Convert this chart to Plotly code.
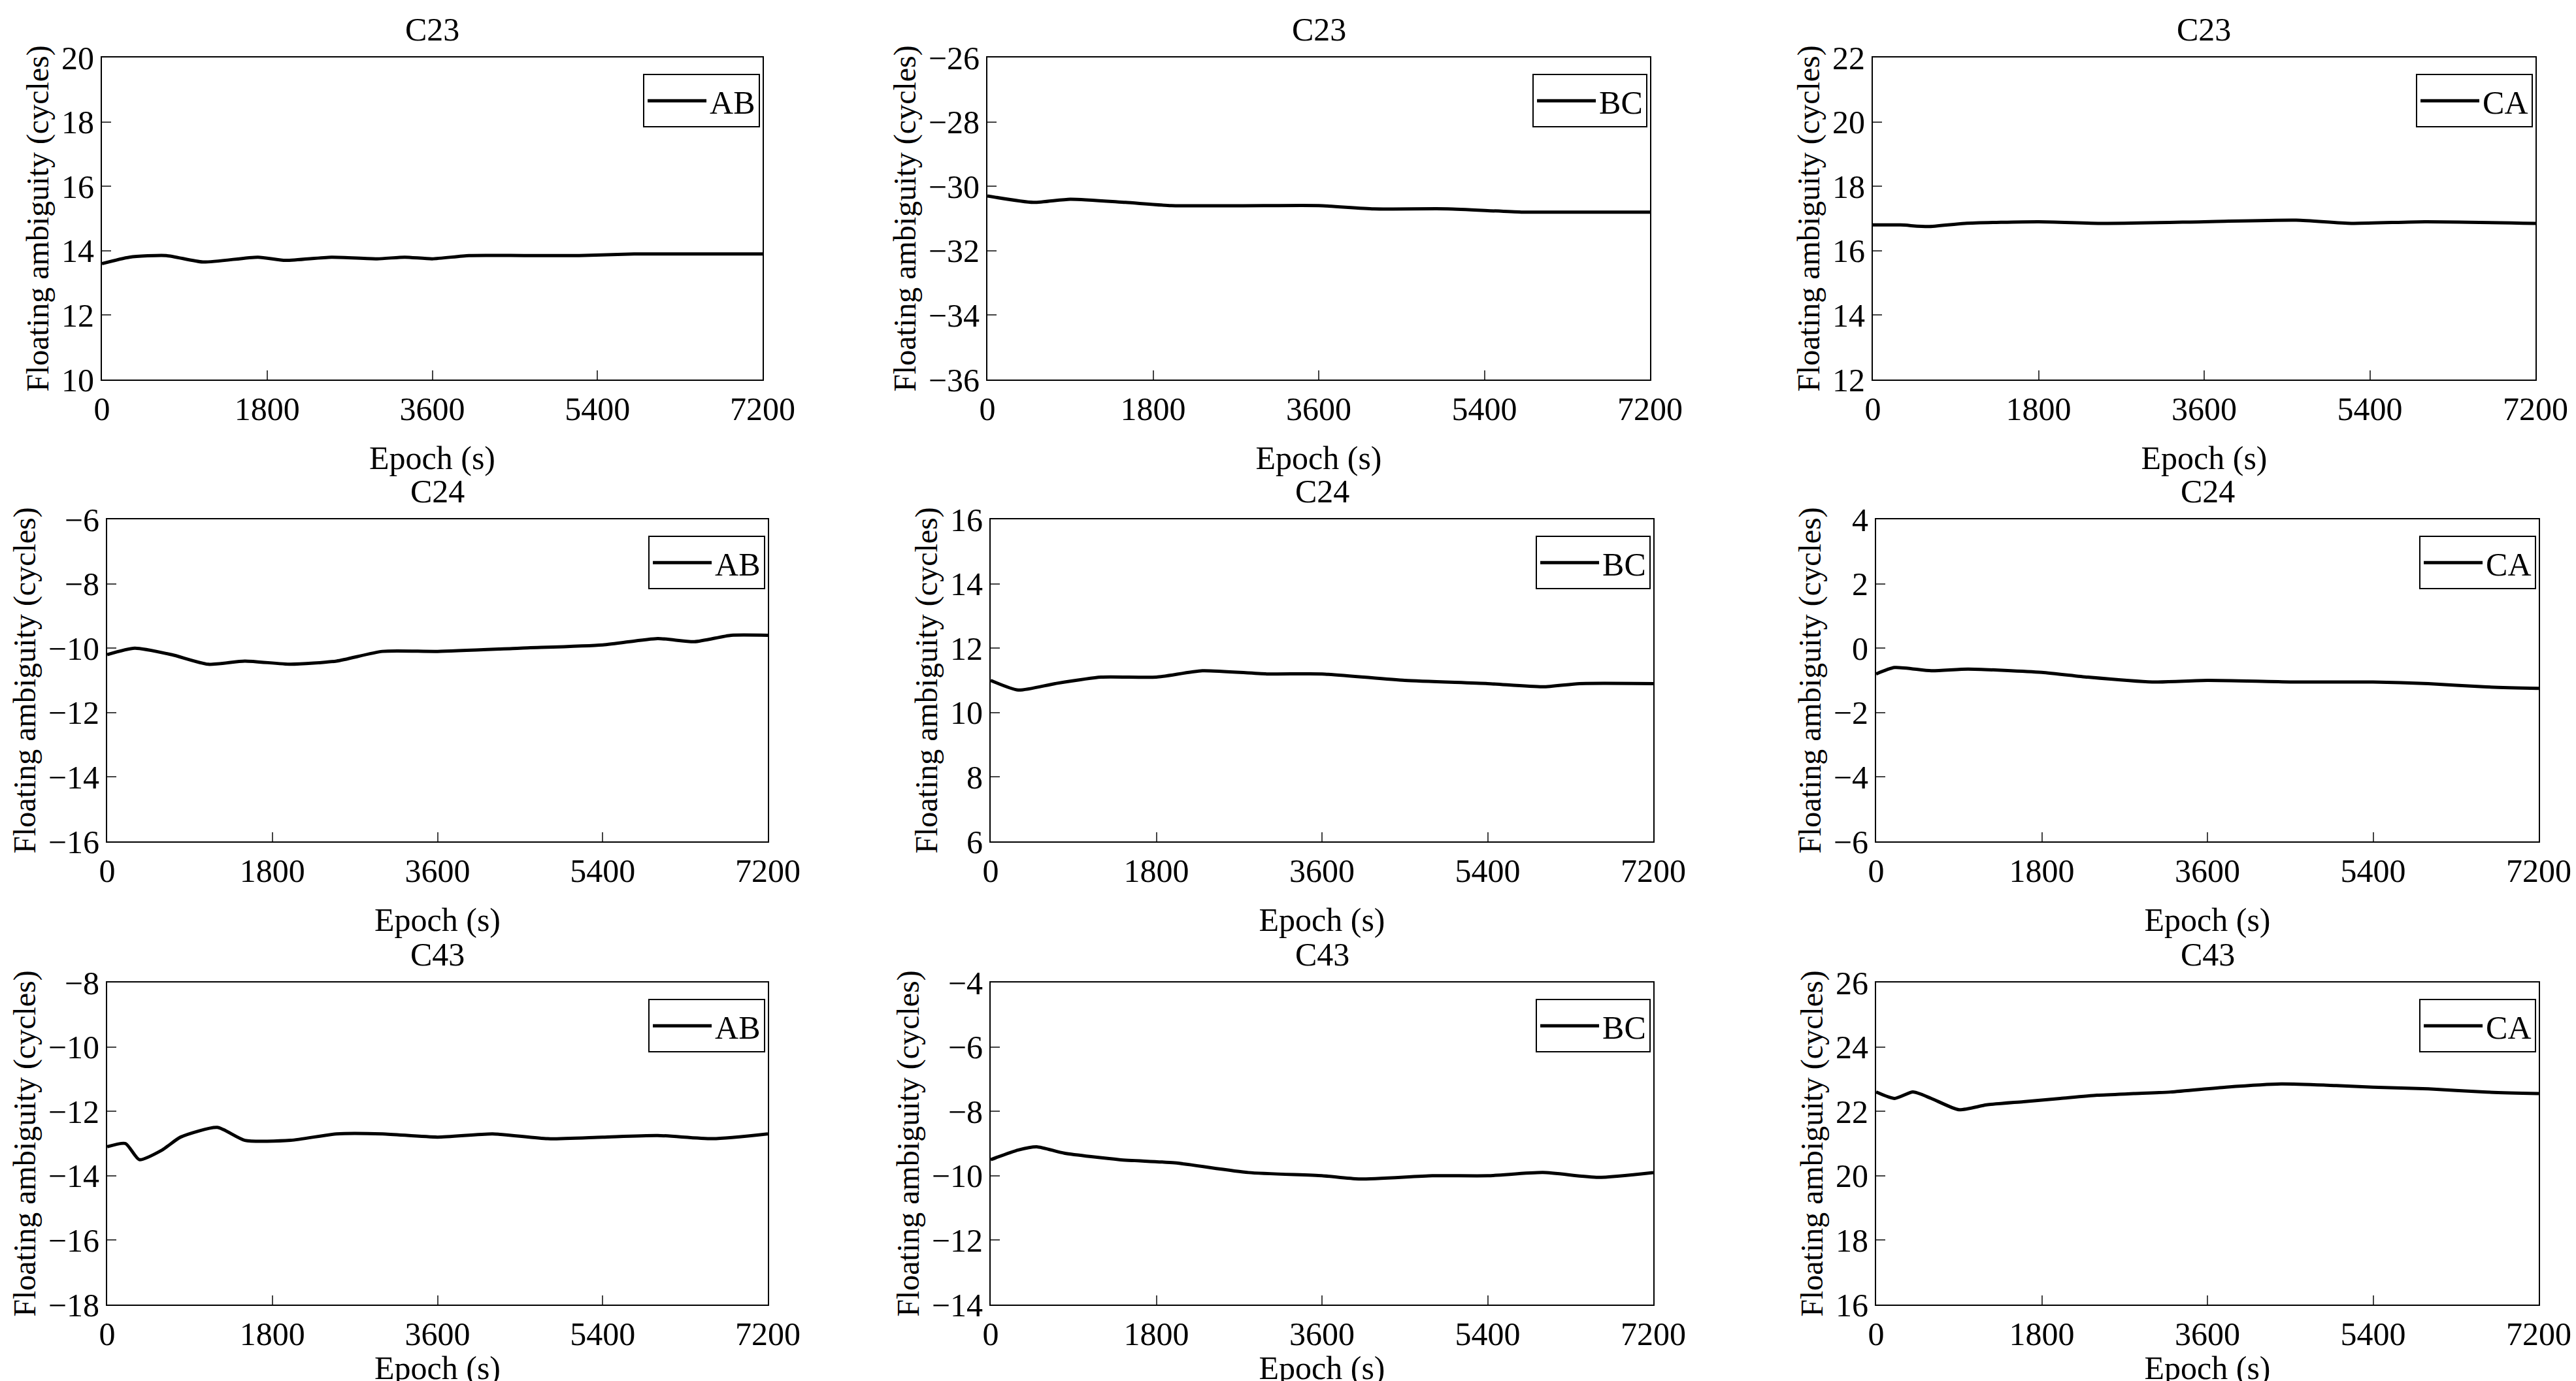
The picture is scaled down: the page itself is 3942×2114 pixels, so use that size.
import plotly.graph_objects as go

x_c23_ab = [0,300,700,1100,1700,2000,2500,3000,3300,3600,4000,4600,5200,5800,6500,7200]
y_c23_ab = [13.6,13.8,13.85,13.65,13.8,13.7,13.8,13.75,13.8,13.75,13.85,13.85,13.85,13.9,13.9,13.9]
x_c23_bc = [0,500,900,1500,2000,3000,3600,4200,5000,5800,6500,7200]
y_c23_bc = [-30.3,-30.5,-30.4,-30.5,-30.6,-30.6,-30.6,-30.7,-30.7,-30.8,-30.8,-30.8]
x_c23_ca = [0,300,600,1000,1800,2500,3600,4600,5200,6000,7200]
y_c23_ca = [16.8,16.8,16.75,16.85,16.9,16.85,16.9,16.95,16.85,16.9,16.85]
x_c24_ab = [0,300,700,1100,1500,2000,2500,3000,3600,4500,5400,6000,6400,6800,7200]
y_c24_ab = [-10.2,-10.0,-10.2,-10.5,-10.4,-10.5,-10.4,-10.1,-10.1,-10.0,-9.9,-9.7,-9.8,-9.6,-9.6]
x_c24_bc = [0,300,700,1200,1800,2300,3000,3600,4500,5400,6000,6400,7200]
y_c24_bc = [11.0,10.7,10.9,11.1,11.1,11.3,11.2,11.2,11.0,10.9,10.8,10.9,10.9]
x_c24_ca = [0,200,600,1000,1800,2300,3000,3600,4500,5400,6000,6600,7200]
y_c24_ca = [-0.8,-0.6,-0.7,-0.65,-0.75,-0.9,-1.05,-1.0,-1.05,-1.05,-1.1,-1.2,-1.25]
x_c43_ab = [0,200,350,600,800,1200,1500,2000,2500,3000,3600,4200,4800,5400,6000,6600,7200]
y_c43_ab = [-13.1,-13.0,-13.5,-13.2,-12.8,-12.5,-12.9,-12.9,-12.7,-12.7,-12.8,-12.7,-12.85,-12.8,-12.75,-12.85,-12.7]
x_c43_bc = [0,300,500,800,1400,2000,2800,3600,4000,4800,5400,6000,6600,7200]
y_c43_bc = [-9.5,-9.2,-9.1,-9.3,-9.5,-9.6,-9.9,-10.0,-10.1,-10.0,-10.0,-9.9,-10.05,-9.9]
x_c43_ca = [0,200,400,600,900,1200,1600,2000,2400,2800,3200,3800,4400,5000,5400,6000,6600,7200]
y_c43_ca = [22.6,22.4,22.6,22.4,22.05,22.2,22.3,22.4,22.5,22.55,22.6,22.75,22.85,22.8,22.75,22.7,22.6,22.55]

titles = ["C23","C23","C23","C24","C24","C24","C43","C43","C43"]
names = ["AB","BC","CA"]*3
yranges = [[10,20],[-36,-26],[12,22],[-16,-6],[6,16],[-6,4],[-18,-8],[-14,-4],[16,26]]
series = [(x_c23_ab,y_c23_ab),(x_c23_bc,y_c23_bc),(x_c23_ca,y_c23_ca),
          (x_c24_ab,y_c24_ab),(x_c24_bc,y_c24_bc),(x_c24_ca,y_c24_ca),
          (x_c43_ab,y_c43_ab),(x_c43_bc,y_c43_bc),(x_c43_ca,y_c43_ca)]

W, H = 3942, 2114
rows_px = [(80,573),(787,1280),(1496,1989)]
cols_px = [[(148,1159),(1503,2517),(2858,3872)],
           [(156,1167),(1508,2522),(2863,3877)],
           [(156,1167),(1508,2522),(2863,3877)]]
FONT = "Liberation Serif"
fig = go.Figure()
lay = {}
for i in range(9):
    r, c = divmod(i, 3)
    x0, x1 = cols_px[r][c]; y0, y1 = rows_px[r]
    xd = [x0/W, x1/W]; yd = [1-y1/H, 1-y0/H]
    sfx = "" if i == 0 else str(i+1)
    lg = "legend" + sfx
    xs, ys = series[i]
    fig.add_trace(go.Scatter(x=xs, y=ys, mode="lines", name=names[i], showlegend=True,
                             line=dict(color="black", width=5, shape="spline", smoothing=0.6),
                             xaxis="x"+sfx, yaxis="y"+sfx, legend=lg))
    lay["xaxis"+sfx] = dict(domain=xd, anchor="y"+sfx, range=[0,7200], tickvals=[0,1800,3600,5400,7200],
                            ticks="inside", ticklen=14, tickwidth=2, showline=True, linecolor="black",
                            linewidth=2, mirror=True, showgrid=False, zeroline=False, automargin=False,
                            tickfont=dict(size=50, family=FONT, color="black"),
                            title=dict(text="Epoch (s)", standoff=30, font=dict(size=50, family=FONT, color="black")))
    lay["yaxis"+sfx] = dict(domain=yd, anchor="x"+sfx, range=yranges[i], dtick=2,
                            ticks="inside", ticklen=14, tickwidth=2, showline=True, linecolor="black",
                            linewidth=2, mirror=True, showgrid=False, zeroline=False, automargin=False,
                            tickfont=dict(size=50, family=FONT, color="black"),
                            title=dict(text="Floating ambiguity (cycles)", standoff=4,
                                       font=dict(size=48, family=FONT, color="black")))
    lay[lg] = dict(x=xd[1]-0.001, xanchor="right", y=yd[1]-0.012, yanchor="top",
                   bordercolor="black", borderwidth=2, bgcolor="white",
                   font=dict(size=50, family=FONT, color="black"), itemwidth=90,
                   tracegroupgap=0)
    fig.add_annotation(text=titles[i], x=(xd[0]+xd[1])/2, y=yd[1]+0.006, xref="paper", yref="paper",
                       xanchor="center", yanchor="bottom", showarrow=False,
                       font=dict(size=50, family=FONT, color="black"))

fig.update_layout(width=W, height=H, margin=dict(l=0,r=0,t=0,b=0),
                  plot_bgcolor="white", paper_bgcolor="white", **lay)
fig.write_html("out.html")
